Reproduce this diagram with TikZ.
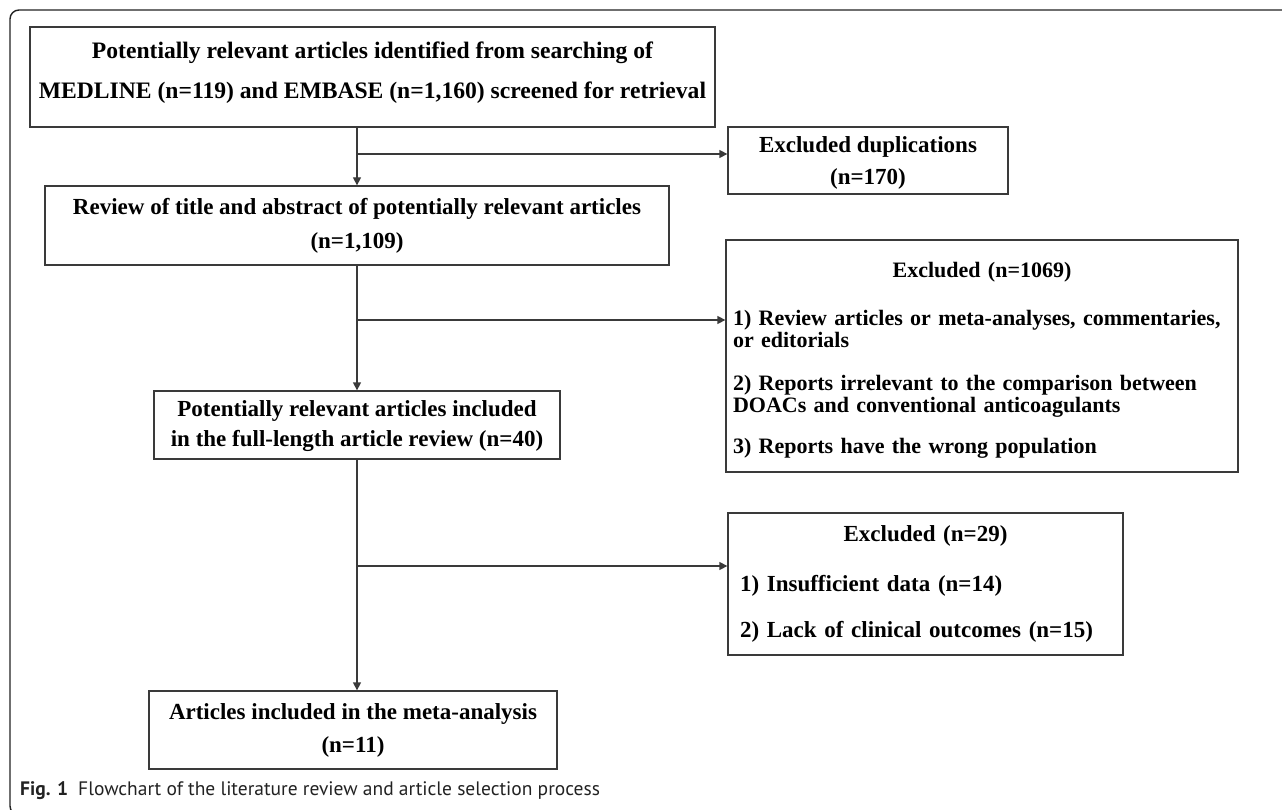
\documentclass[tikz,border=0pt]{standalone}
\usepackage{fontspec}
\setmainfont{Liberation Serif}
\newfontfamily\capfont{PT Sans}
\usetikzlibrary{arrows.meta,calc}
\definecolor{ln}{HTML}{3A3A3A}
\definecolor{frame}{HTML}{222222}
\hyphenpenalty=10000
\begin{document}
\begin{tikzpicture}[x=1pt,y=-1pt,
  box/.style={draw=ln,line width=1.3pt,rectangle,inner sep=0pt,align=center,
    font=\fontsize{23}{#1}\selectfont\bfseries},
  lbox/.style={draw=ln,line width=1.3pt,rectangle,inner sep=0pt,align=left,
    font=\fontsize{23}{23}\selectfont\bfseries},
  arr/.style={draw=ln,line width=1.3pt,-{Triangle[length=8pt,width=8pt]}},
  conn/.style={draw=ln,line width=1.3pt}]
\useasboundingbox (0,0) rectangle (1282,810);
\begin{scope}
\clip (0,0) rectangle (1282,810);
\draw[frame,line width=1.4pt,rounded corners=9pt] (10,10) rectangle (1300,815);
\end{scope}

\node[box=40,minimum width=685,minimum height=100,font=\fontsize{23.6}{40}\selectfont\bfseries] (b1) at (372.5,77)
  {Potentially relevant articles identified from searching of\\MEDLINE (n=119) and EMBASE (n=1,160) screened for retrieval\rule[-14pt]{0pt}{0pt}};
\node[box=34,minimum width=624,minimum height=79] (b2) at (357,225.5)
  {Review of title and abstract of potentially relevant articles\\(n=1,109)};
\node[box=32,minimum width=280,minimum height=67] (ex1) at (868,160.5)
  {\rule{0pt}{20pt}Excluded duplications\\(n=170)};
\node[lbox,minimum width=512,minimum height=232,text width=498,
      font=\fontsize{22}{22.5}\selectfont\bfseries] (ex2) at (982,356)
  {\makebox[\linewidth]{\rule{0pt}{24pt}Excluded (n=1069)}\\[25pt]
   \mbox{1) Review articles or meta-analyses, commentaries,}\\or editorials\\[20pt]
   \mbox{2) Reports irrelevant to the comparison between}\\DOACs and conventional anticoagulants\\[18pt]
   3) Reports have the wrong population};
\node[box=30,minimum width=406,minimum height=68] (b3) at (357,425)
  {\rule{0pt}{18pt}Potentially relevant articles included\\in the full-length article review (n=40)};
\node[lbox,minimum width=395,minimum height=142,text width=371] (ex3) at (925.5,584)
  {\makebox[\linewidth]{Excluded (n=29)}\\[27pt]
   1) Insufficient data (n=14)\\[23pt]
   2) Lack of clinical outcomes (n=15)};
\node[box=33,minimum width=408,minimum height=78] (b4) at (353,730)
  {Articles included in the meta-analysis\\(n=11)};

\coordinate (j1) at (357,154);
\coordinate (j2) at (357,320);
\coordinate (j3) at (357,566);
\draw[arr] (b1.south -| b2.north) -- (b2.north);
\draw[arr] (j1) -- (j1 -| ex1.west);
\draw[arr] (b2.south) -- (b3.north);
\draw[arr] (j2) -- (j2 -| ex2.west);
\draw[arr] (b3.south) -- (b3.south |- b4.north);
\draw[arr] (j3) -- (j3 -| ex3.west);

\node[anchor=base west,inner sep=0pt,font=\capfont\fontsize{19.5}{22}\selectfont,text=frame] (cap) at (20,795)
  {\textbf{Fig. 1}\hspace{10pt}Flowchart of the literature review and article selection process};
\end{tikzpicture}
\end{document}
